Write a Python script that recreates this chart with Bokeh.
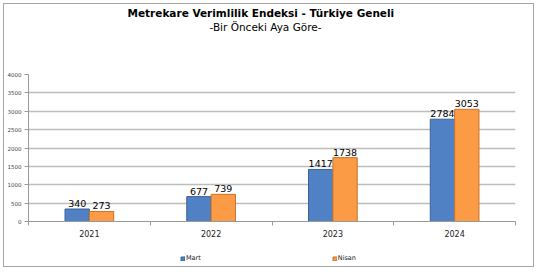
from bokeh.plotting import figure
from bokeh.layouts import column
from bokeh.models import (ColumnDataSource, FixedTicker, Range1d, Legend, LegendItem, Title)
from bokeh.embed import file_html
from bokeh.resources import INLINE

years = ["2021", "2022", "2023", "2024"]
mart = [340, 677, 1417, 2784]
nisan = [273, 739, 1738, 3053]
series_names = ["Mart", "Nisan"]
title_text = "Metrekare Verimlilik Endeksi - Türkiye Geneli"
subtitle_text = "-Bir Önceki Aya Göre-"

BLUE = "#4F81C4"
BLUE_EDGE = "#3A6296"
ORANGE = "#FB9B45"
ORANGE_EDGE = "#C8742C"
FONT = "DejaVu Sans"

centers = [i + 0.5 for i in range(len(years))]
src = ColumnDataSource(dict(
    xm=[c - 0.1 for c in centers],
    xn=[c + 0.1 for c in centers],
    mart=mart, nisan=nisan,
    lm=[str(v) for v in mart], ln=[str(v) for v in nisan],
))

p = figure(width=529, height=242, output_backend="svg", toolbar_location=None,
           x_range=Range1d(0, 4), y_range=Range1d(0, 4000),
           min_border_left=22, min_border_right=18, min_border_top=70, min_border_bottom=25,
           title=None)
p.outline_line_color = None
p.background_fill_color = "white"
p.border_fill_color = "white"

# grid
p.xgrid.grid_line_color = None
p.ygrid.grid_line_color = "#BDBDBD"
p.ygrid.grid_line_width = 1.5
p.yaxis.ticker = FixedTicker(ticks=list(range(0, 4001, 500)))
p.yaxis.major_label_text_font_size = "5.5px"
p.yaxis.major_label_text_font = FONT
p.yaxis.major_label_text_color = "#444444"
p.yaxis.axis_line_color = "#999999"
p.yaxis.major_tick_line_color = "#999999"
p.yaxis.major_tick_out = 4
p.yaxis.major_tick_in = 0
p.yaxis.minor_tick_line_color = None
p.yaxis.major_label_standoff = 3

p.xaxis.ticker = FixedTicker(ticks=centers, minor_ticks=[0, 1, 2, 3, 4])
p.xaxis.major_label_overrides = {c: y for c, y in zip(centers, years)}
p.xaxis.major_tick_line_color = None
p.xaxis.minor_tick_line_color = "#999999"
p.xaxis.minor_tick_out = 4
p.xaxis.minor_tick_in = 0
p.xaxis.axis_line_color = "#999999"
p.xaxis.major_label_text_font_size = "8px"
p.xaxis.major_label_text_font = FONT
p.xaxis.major_label_text_color = "#222222"
p.xaxis.major_label_standoff = 2

p.vbar(x="xm", top="mart", width=0.2, source=src, fill_color=BLUE, line_color=BLUE_EDGE, line_width=1)
p.vbar(x="xn", top="nisan", width=0.2, source=src, fill_color=ORANGE, line_color=ORANGE_EDGE, line_width=1)

p.text(x="xm", y="mart", text="lm", source=src, text_align="center", text_baseline="bottom",
       y_offset=-2, text_font_size="9.5px", text_font={"value": FONT}, text_color="black")
p.text(x="xn", y="nisan", text="ln", source=src, text_align="center", text_baseline="bottom",
       y_offset=-2, text_font_size="9.5px", text_font={"value": FONT}, text_color="black")

# titles: spacer nearest frame, then subtitle, then title
p.add_layout(Title(text=" ", text_font_size="26px", align="center"), "above")
p.add_layout(Title(text=subtitle_text, align="left", text_font_size="10.5px", text_font=FONT,
                   text_font_style="normal", text_color="black", standoff=0, offset=181), "above")
p.add_layout(Title(text=title_text, align="left", text_font_size="10.5px", text_font=FONT,
                   text_font_style="bold", text_color="black", standoff=0, offset=99), "above")

# legend strip
pl = figure(width=529, height=20, output_backend="svg", toolbar_location=None,
            x_range=Range1d(0, 1), y_range=Range1d(0, 1),
            min_border=0, title=None)
pl.axis.visible = False
pl.grid.visible = False
pl.outline_line_color = None
lsrc = ColumnDataSource(dict(l=[-5], r=[-4], b=[-5], t=[-4]))
lm = pl.quad(left="l", right="r", bottom="b", top="t", source=lsrc, fill_color=BLUE, line_color=BLUE_EDGE)
ln = pl.quad(left="l", right="r", bottom="b", top="t", source=lsrc, fill_color=ORANGE, line_color=ORANGE_EDGE)
legend = Legend(items=[LegendItem(label=series_names[0], renderers=[lm]),
                       LegendItem(label=series_names[1], renderers=[ln])],
                orientation="horizontal", location=(152, 4), spacing=131,
                glyph_width=5, glyph_height=5, label_standoff=1,
                label_text_font_size="6.5px", label_text_font=FONT, label_text_color="#222222",
                border_line_color=None, background_fill_alpha=0,
                padding=0, margin=0, label_height=8, label_width=10)
pl.add_layout(legend, "center")

layout = column(p, pl, spacing=0, margin=(3, 0, 0, 3))
layout.styles = {"border": "1px solid #A6A6A6", "background-color": "white"}

open("out.html", "w").write(file_html(layout, INLINE))
